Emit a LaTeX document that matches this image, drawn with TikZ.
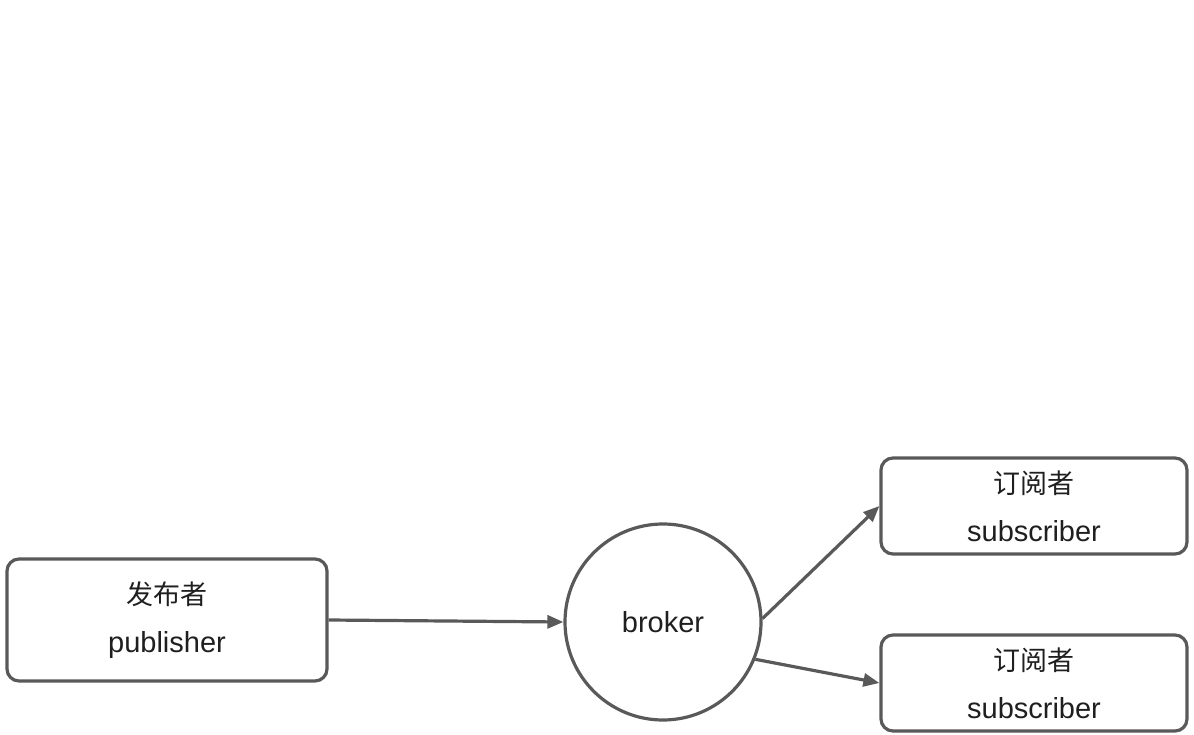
\documentclass[tikz,border=0pt]{standalone}
\usepackage{fontspec}
\setmainfont{Liberation Sans}
\newfontfamily\cjk{Noto Sans CJK SC}
\usetikzlibrary{arrows.meta}
\definecolor{linegray}{HTML}{595959}
\definecolor{textgray}{HTML}{1F1F1F}

\begin{document}
\begin{tikzpicture}[x=1pt, y=-1pt,
  box/.style={draw=linegray, line width=3.2pt, rounded corners=12pt, align=center,
    text=textgray, font=\fontsize{29}{48}\selectfont},
  hub/.style={draw=linegray, line width=3.2pt, circle, minimum size=196pt, inner sep=0,
    text=textgray, font=\fontsize{29}{43}\selectfont},
  flow/.style={-{Triangle[length=16pt, width=13pt]}, draw=linegray, line width=3.2pt}]
\useasboundingbox (0,0) rectangle (1194,735);
\node[box, minimum width=320pt, minimum height=122pt] (pub) at (167,620) {{\cjk\fontsize{27}{48}\selectfont 发布者}\\publisher};
\node[hub] (broker) at (663,622) {broker};
\node[box, minimum width=306pt, minimum height=96pt] (sub1) at (1034,506) {{\cjk\fontsize{27}{48}\selectfont 订阅者}\\subscriber};
\node[box, minimum width=306pt, minimum height=96pt] (sub2) at (1034,683) {{\cjk\fontsize{27}{48}\selectfont 订阅者}\\subscriber};
% Arrows
\draw[flow] (pub.east) -- (broker.west);
\draw[flow] (broker.2) -- (sub1.west);
\draw[flow] (broker.-22) -- (sub2.west);
\end{tikzpicture}
\end{document}
